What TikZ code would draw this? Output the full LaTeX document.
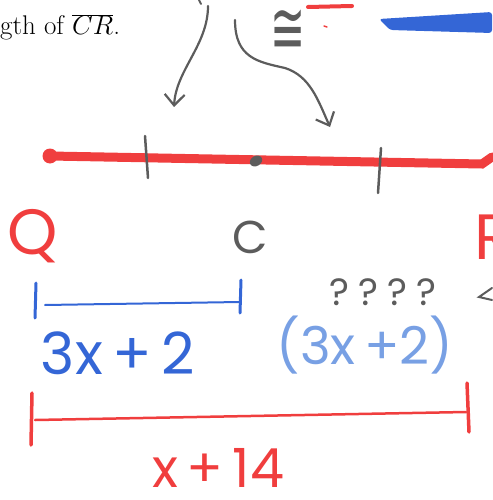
\documentclass[tikz,border=0pt]{standalone}
\usepackage{fix-cm}
\usepackage{fontspec}
\usepackage{graphicx}
\newfontfamily\hand{Poppins}
\newfontfamily\symfont{DejaVu Sans}
\usetikzlibrary{arrows.meta}
\definecolor{penred}{RGB}{240,62,62}
\definecolor{penblue}{RGB}{52,102,214}
\definecolor{paleblue}{RGB}{120,160,228}
\definecolor{pengray}{RGB}{92,92,92}

\begin{document}
\begin{tikzpicture}[x=1pt, y=-1pt,
  redline/.style={draw=penred, line cap=round, line width=#1},
  blueline/.style={draw=penblue, line cap=round, line width=#1},
  grayline/.style={draw=pengray, line cap=round, line width=#1},
  pointer/.style={draw=pengray, line width=2.2pt, line cap=round,
                  -{Straight Barb[length=11pt, width=20pt, line width=2.2pt]}},
  label/.style={inner sep=0pt, font=\hand\fontsize{#1}{#1}\selectfont}]
\useasboundingbox (0,0) rectangle (492,500);
% text line at the top, cropped
\node[anchor=base west, inner sep=0pt, font=\fontsize{27}{31}\selectfont] (title) at (0,35) {gth of $\overline{CR}$.};
\node[inner sep=0pt, text=pengray] (cong) at (288,32) {\scalebox{1.0}[1.75]{\symfont\fontsize{42}{42}\selectfont ≅}};
\coordinate (redA) at (308,7);  \coordinate (redB) at (352,6);
\draw[redline=4pt] (redA) -- (redB);
\coordinate (redC) at (324,26);  \coordinate (redD) at (327,27);
\draw[redline=1.5pt] (redC) -- (redD);
\fill[penblue, rounded corners=3pt] (379,19) -- (492,12) -- (492,33) -- (390,30) -- cycle;
\coordinate (topG) at (199,0);  \coordinate (topH) at (201,4);
\draw[grayline=2pt] (topG) -- (topH);
% gray pointers down to the line
\coordinate (p1) at (208,6);   \coordinate (t1) at (174,107);
\draw[pointer] (p1) .. controls (208,45) and (176,70) .. (t1);
\coordinate (p2) at (235,20);  \coordinate (k2) at (285,68);  \coordinate (t2) at (330,127);
\draw[pointer] (p2) .. controls (235,58) and (258,62) .. (k2) .. controls (310,76) and (318,100) .. (t2);
% the red line QR
\coordinate (lineQ) at (50,156);  \coordinate (lineR) at (482,164);  \coordinate (hookR) at (492,157);
\draw[redline=9pt] (lineQ) -- (lineR) -- (hookR);
\fill[penred] (lineQ) circle (7.5);
\coordinate (tickQa) at (145,136);  \coordinate (tickQb) at (148,178);
\coordinate (tickRa) at (381,148);  \coordinate (tickRb) at (378,193);
\draw[grayline=2.5pt] (tickQa) -- (tickQb);
\draw[grayline=2.5pt] (tickRa) -- (tickRb);
\fill[pengray, rotate around={30:(256,161)}] (256,161) ellipse (6.5 and 5);
% point labels
\node[label=64, text=penred] (Q) at (33,236) {Q};
\node[label=46, text=pengray] (C) at (250,237) {C};
\node[label=64, text=penred, anchor=west] (R) at (474,237) {R};
\coordinate (angA) at (492,288);  \coordinate (angB) at (479,297);  \coordinate (angC) at (492,300);
\draw[grayline=2pt] (angA) -- (angB) -- (angC);
% QC = 3x+2
\coordinate (qcL) at (36,283);  \coordinate (qcLb) at (35,318);
\coordinate (qcR) at (241,280); \coordinate (qcRb) at (240,313);
\draw[blueline=3pt] (qcL) -- (qcLb);
\draw[blueline=3pt] (qcR) -- (qcRb);
\coordinate (qcA) at (45,305);  \coordinate (qcB) at (240,302);
\draw[blueline=2pt] (qcA) -- (qcB);
\node[label=58, text=penblue] (qc) at (118,353) {3x\,+\,2};
\node[label=38, text=pengray] (ask) at (383,292) {?\hspace{9pt}?\hspace{9pt}?\hspace{9pt}?};
\node[label=52, text=paleblue] (cr) at (365,345) {(3x\,+2)};
% QR = x+14
\coordinate (qrL) at (32,393);  \coordinate (qrLb) at (31,445);
\coordinate (qrR) at (467,383); \coordinate (qrRb) at (469,432);
\draw[redline=3.5pt] (qrL) -- (qrLb);
\draw[redline=3.5pt] (qrR) -- (qrRb);
\coordinate (qrA) at (35,420);  \coordinate (qrB) at (466,412);
\draw[redline=2.5pt] (qrA) -- (qrB);
\node[label=54, text=penred] (qr) at (218,468) {x\,+\,14};
\end{tikzpicture}
\end{document}
